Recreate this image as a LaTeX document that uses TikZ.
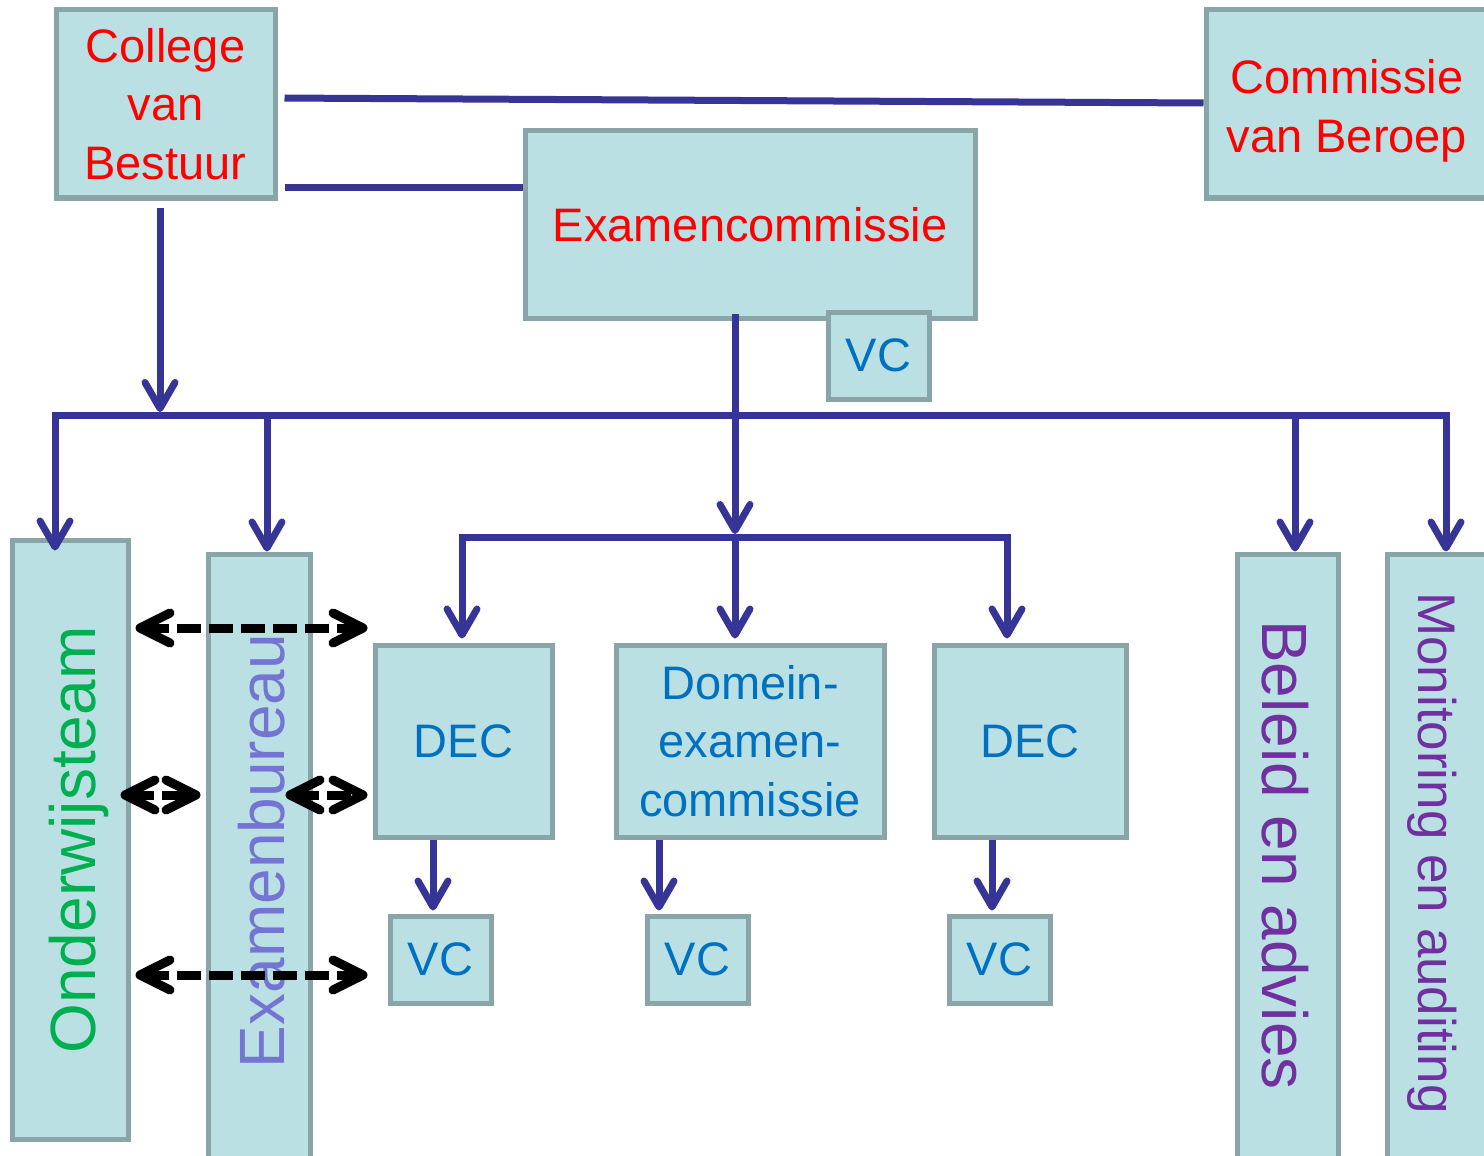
\documentclass[tikz,border=0pt]{standalone}
\usepackage{fontspec}
\setmainfont{Liberation Sans}
\usetikzlibrary{arrows.meta}
\definecolor{boxfill}{HTML}{BBE0E3}
\definecolor{boxline}{HTML}{8AA5A8}
\definecolor{conncol}{HTML}{363596}
\definecolor{txtred}{HTML}{FF0000}
\definecolor{txtblue}{HTML}{0070C0}
\definecolor{txtgreen}{HTML}{00B050}
\definecolor{txtlav}{HTML}{7474D2}
\definecolor{txtpurple}{HTML}{7030A0}
\begin{document}
\begin{tikzpicture}[x=0.5pt,y=-0.5pt,
  box/.style={draw=boxline, fill=boxfill, line width=2.5pt, inner sep=0pt, rectangle, align=center},
  mainfont/.style={font=\fontsize{23.5pt}{29.25pt}\selectfont},
  bigfont/.style={font=\fontsize{32pt}{38pt}\selectfont},
  conn/.style={draw=conncol, line width=3.5pt},
  bluearrow/.style={-{Straight Barb[length=13pt,width=15pt,round]}},
  dasharrow/.style={draw=black, line width=4.5pt, dash pattern=on 12pt off 4pt,
    {Straight Barb[length=15pt,width=15pt,round]}-{Straight Barb[length=15pt,width=15pt,round]}}
]
\useasboundingbox (0,0) rectangle (1484,1156);
\clip (0,0) rectangle (1484,1156);

% boxes
\node[box, minimum width=109.5pt, minimum height=94pt, text=txtred, mainfont] (college) at (165.5,104) {College\\van\\Bestuur};
\node[box, minimum width=142pt, minimum height=94pt] (cvb) at (1348,104) {};
\node[text=txtred, mainfont, align=center] (cvbtext) at (1347,111) {Commissie\\van Beroep};
\node[box, minimum width=225pt, minimum height=93.5pt, text=txtred, mainfont] (ec) at (750,224.5) {Examencommissie};
\node[box, minimum width=50.5pt, minimum height=43.5pt, text=txtblue, mainfont] (vctop) at (878.5,355.5) {VC};

\node[box, minimum width=58pt, minimum height=299.5pt] (ow) at (70,839.5) {};
\node[box, minimum width=51pt, minimum height=308pt] (eb) at (259,862) {};
\node[box, minimum width=88.5pt, minimum height=96pt, text=txtblue, mainfont] (dec1) at (463.5,741) {DEC};
\node[box, minimum width=134pt, minimum height=96pt, text=txtblue, mainfont] (dom) at (750,741) {Domein-\\examen-\\commissie};
\node[box, minimum width=96pt, minimum height=96pt, text=txtblue, mainfont] (dec2) at (1030,741) {DEC};
\node[box, minimum width=50.5pt, minimum height=43.5pt, text=txtblue, mainfont] (vc1) at (440.5,959.5) {VC};
\node[box, minimum width=50.5pt, minimum height=43.5pt, text=txtblue, mainfont] (vc2) at (697.5,959.5) {VC};
\node[box, minimum width=50.5pt, minimum height=43.5pt, text=txtblue, mainfont] (vc3) at (999.5,959.5) {VC};
\node[box, minimum width=50.5pt, minimum height=308pt] (bel) at (1287.5,862) {};
\node[box, minimum width=56.5pt, minimum height=308pt] (mon) at (1443.5,862) {};

% vertical texts
\node[rotate=90, anchor=base, text=txtgreen, bigfont, inner sep=0pt] (owtext) at (95,840) {Onderwijsteam};
\node[rotate=90, anchor=base, text=txtlav, bigfont, inner sep=0pt] (ebtext) at (284,851) {Examenbureau};
\node[rotate=-90, anchor=base, text=txtpurple, bigfont, inner sep=0pt] (beltext) at (1262,855) {Beleid en advies};
\node[rotate=-90, anchor=base, text=txtpurple, font=\fontsize{26.5pt}{32pt}\selectfont, inner sep=0pt] (montext) at (1418,853) {Monitoring en auditing};

% top connectors
\draw[conn, shorten <=3.5pt] ([yshift=3pt]college.east) -- ([yshift=0.5pt]cvb.west);
\draw[conn, shorten <=3.5pt] ([yshift=-42pt]college.east) -- ([yshift=-42pt]college.east -| ec.west);

% bus 1
\coordinate (b1) at (55,415);
\coordinate (b2) at (267,415);
\coordinate (b3) at (1295,415);
\coordinate (b4) at (1446,415);
\draw[conn, line cap=rect] (b1) -- (b4);
\draw[conn, bluearrow, shorten <=3.5pt, shorten >=1.5pt] ([xshift=-2.75pt]college.south) -- ([xshift=-2.75pt]college.south |- b1);
\draw[conn, bluearrow, shorten >=-6.5pt] (b1) -- (ow.north -| b1);
\draw[conn, bluearrow] (b2) -- (b2 |- eb.north);
\draw[conn, bluearrow] (b3) -- (b3 |- bel.north);
\draw[conn, bluearrow] (b4) -- (b4 |- mon.north);

% bus 2
\coordinate (c1) at (462,537);
\coordinate (c2) at (735,537);
\coordinate (c3) at (1007,537);
\draw[conn, bluearrow, shorten >=1.5pt] ([yshift=3.5pt]ec.south -| c2) -- (c2);
\draw[conn, line cap=rect] (c1) -- (c3);
\draw[conn, bluearrow, shorten >=2pt] (c1) -- (c1 |- dec1.north);
\draw[conn, bluearrow, shorten >=2pt] (c2) -- (c2 |- dom.north);
\draw[conn, bluearrow, shorten >=2pt] (c3) -- (c3 |- dec2.north);

% to VC
\draw[conn, bluearrow, shorten >=1.5pt] ([xshift=-3.75pt]vc1.north |- dec1.south) -- ([xshift=-3.75pt]vc1.north);
\draw[conn, bluearrow, shorten >=1.5pt] ([xshift=-19.25pt]vc2.north |- dom.south) -- ([xshift=-19.25pt]vc2.north);
\draw[conn, bluearrow, shorten >=1.5pt] ([xshift=-3.75pt]vc3.north |- dec2.south) -- ([xshift=-3.75pt]vc3.north);

% dashed double arrows
\coordinate (d1) at (0,628);
\coordinate (d2) at (0,795);
\coordinate (d3) at (0,975);
\draw[dasharrow, shorten <=2.5pt, shorten >=2.5pt] (ow.east |- d1) -- (dec1.west |- d1);
\draw[dasharrow, shorten <=-5pt, shorten >=2.5pt] (ow.east |- d2) -- (eb.west |- d2);
\draw[dasharrow, shorten <=-13.5pt, shorten >=2.5pt] (eb.east |- d2) -- (dec1.west |- d2);
\draw[dasharrow, shorten <=2.5pt, shorten >=2.5pt] (ow.east |- d3) -- (dec1.west |- d3);
\end{tikzpicture}
\end{document}
